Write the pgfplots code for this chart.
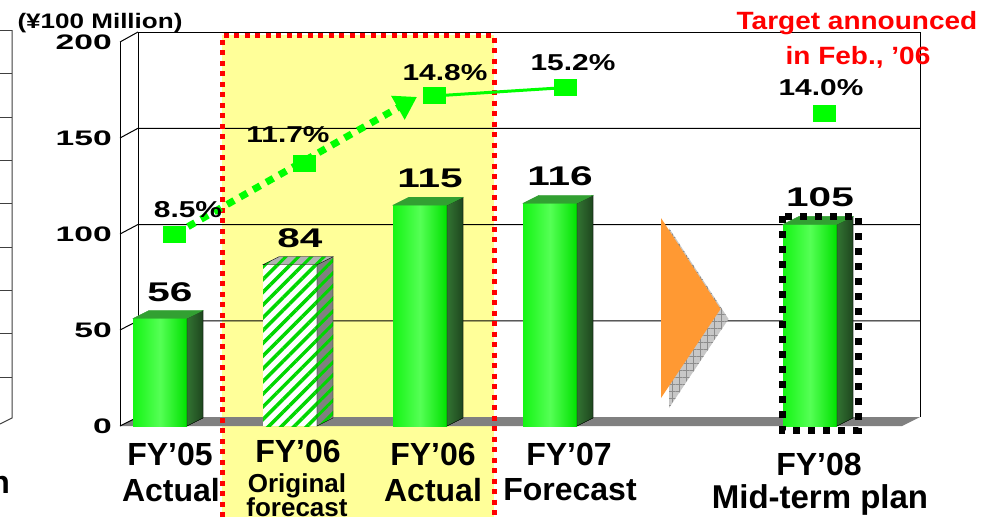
\documentclass[border=0pt]{standalone}
\usepackage{pgfplots}
\pgfplotsset{compat=1.18}
\usepackage{graphicx}
\usepackage{fontspec}
\setmainfont{Liberation Sans}
\usetikzlibrary{patterns.meta,arrows.meta}

\definecolor{ygreen}{RGB}{0,255,0}
\definecolor{barL}{RGB}{20,245,20}
\definecolor{barM}{RGB}{85,255,85}
\definecolor{barR}{RGB}{0,225,0}
\definecolor{sideL}{RGB}{50,115,50}
\definecolor{sideR}{RGB}{30,70,30}
\definecolor{topG}{RGB}{50,160,50}
\definecolor{hatchG}{RGB}{0,215,0}
\definecolor{paleyellow}{RGB}{255,255,153}
\definecolor{orangeT}{RGB}{255,153,51}
\definecolor{floorgray}{RGB}{128,128,128}

\pgfdeclareplotmark{nothing}{}
\pgfdeclareplotmark{greenrect}{\pgfpathrectangle{\pgfpoint{-11.5pt}{-8.5pt}}{\pgfpoint{23pt}{17pt}}\pgfusepathqfill}
\newcommand{\W}[2]{\scalebox{#1}[1]{#2}}
\newcommand{\fs}[1]{\fontsize{#1}{#1}\selectfont\bfseries}
\newcommand{\shtext}[5]{%
  \node[anchor=base, inner sep=0pt, font=\fs{#3}, text=#4] at (#1,#2) {#5};}

\pgfplotsset{
  frontbar/.style={ybar, bar width=54pt, bar shift=0pt, draw=none, fill=barL,
    left color=barL, right color=barR, middle color=barM},
  vals/.style={nodes near coords={\W{1.5}{\pgfmathprintnumber[assume math mode=true]{\pgfplotspointmeta}}},
    every node near coord/.append style={font=\fs{27}, text=black, inner sep=0pt, anchor=south, xshift=10pt, yshift=17pt}},
}

\begin{document}
\begin{tikzpicture}
\useasboundingbox (0pt,0pt) rectangle (990pt,-517pt);
\begin{scope}[x=1pt,y=-1pt]
  \fill[white] (0,0) rectangle (990,517);
  % fragment of neighbouring chart
  \foreach \yy in {30,73,117,160,203,247,290,333,377} \draw[black!75,line width=1pt] (0,\yy) -- (12,\yy);
  \draw[black!75, line width=1pt] (12,30) -- (12,418) -- (0,424);
  \node[anchor=base east, inner sep=0pt, font=\fs{32}] at (10,493) {n};
  % highlighted region
  \fill[paleyellow] (222,35) rectangle (494,517);
  % walls
  \draw[line width=1pt] (138,417) -- (138,32) -- (920,32) -- (920,417);
  \foreach \v in {50,100,150} \draw[line width=1pt] (120,{426-1.92*\v}) -- (138,{417-1.925*\v}) -- (920,{417-1.925*\v});
  \draw[line width=1pt] (120,42) -- (138,32);
  \draw[line width=1pt] (120,426) -- (120,42);
  % floor
  \fill[floorgray] (120,426) -- (902,426) -- (920,417) -- (138,417) -- cycle;
  \draw[line width=1pt] (120,426) -- (138,417);
  \draw[red, line width=5pt, dash pattern=on 5pt off 5.5pt] (222,517) -- (222,35.5) -- (494.5,35.5) -- (494.5,517);
  \node[anchor=base, inner sep=0pt, font=\fs{21}] at (100,28) {\W{1.24}{(¥100 Million)}};
\end{scope}

\begin{axis}[
  at={(120pt,-426pt)}, anchor=south west,
  scale only axis, width=782pt, height=384pt,
  xmin=-0.30769, xmax=5.70769, ymin=0, ymax=200,
  axis line style={draw=none}, major tick length=0pt,
  xtick=\empty,
  ytick={0,50,100,150,200},
  yticklabels={\W{1.6}{0},\W{1.6}{50},\W{1.6}{100},\W{1.6}{150},\W{1.6}{200}},
  yticklabel style={font=\fs{21}, inner sep=0pt, anchor=east, xshift=-8pt},
  clip=false,
]
% front faces
\addplot[frontbar, vals] coordinates {(0,56)};
\addplot[frontbar, vals] coordinates {(2,115)};
\addplot[frontbar, vals] coordinates {(3,116)};
\addplot[frontbar, vals] coordinates {(5,105)};
\addplot[ybar, bar width=54pt, bar shift=0pt, draw=none, fill=white] coordinates {(1,84)};
\addplot[ybar, bar width=54pt, bar shift=0pt, draw=none, vals,
  pattern={Lines[angle=45,distance=9pt,line width=3.5pt]}, pattern color=hatchG] coordinates {(1,84)};
% side and top faces
\addplot[scatter, only marks, mark=nothing, visualization depends on={rawy \as \barval},
  scatter/@pre marker code/.code={%
    \pgfmathsetmacro{\hh}{\barval*1.92}%
    \fill[left color=sideL, right color=sideR] (27pt,0pt) -- (43pt,8pt) -- (43pt,8pt-\hh pt) -- (27pt,-\hh pt) -- cycle;
    \fill[topG] (-27pt,0pt) -- (-11pt,8pt) -- (43pt,8pt) -- (27pt,0pt) -- cycle;
  },
  scatter/@post marker code/.code={}]
  coordinates {(0,56) (2,115) (3,116) (5,105)};
\addplot[scatter, only marks, mark=nothing, visualization depends on={rawy \as \barval},
  scatter/@pre marker code/.code={%
    \pgfmathsetmacro{\hh}{\barval*1.92}%
    \fill[black!50] (27pt,0pt) -- (43pt,8pt) -- (43pt,8pt-\hh pt) -- (27pt,-\hh pt) -- cycle;
    \fill[pattern={Lines[angle=45,distance=9pt,line width=3pt]}, pattern color=hatchG] (27pt,0pt) -- (43pt,8pt) -- (43pt,8pt-\hh pt) -- (27pt,-\hh pt) -- cycle;
    \fill[black!30] (-27pt,0pt) -- (-11pt,8pt) -- (43pt,8pt) -- (27pt,0pt) -- cycle;
    \fill[pattern={Lines[angle=45,distance=9pt,line width=3pt]}, pattern color=hatchG] (-27pt,0pt) -- (-11pt,8pt) -- (43pt,8pt) -- (27pt,0pt) -- cycle;
  },
  scatter/@post marker code/.code={}]
  coordinates {(1,84)};
% margin lines
\addplot[ygreen, line width=7pt, dash pattern=on 8pt off 7pt, -{Triangle[length=22pt,width=26pt]}]
  coordinates {(0.115,100) (1.977,171.4)};
\addplot[ygreen, line width=3pt] coordinates {(2.108,171.9) (3.123,176.3)};
\addplot[only marks, mark=greenrect, color=ygreen]
  coordinates {(0.115,100) (1.115,136.5) (2.108,171.9) (3.123,176.3) (5.115,162.8)};
\end{axis}

\begin{scope}[x=1pt,y=-1pt]
  % arrow between FY07 and FY08
  \fill[black!22] (669,228) -- (728.5,319) -- (669,408) -- cycle;
  \fill[pattern={Hatch[angle=0,distance=7pt,line width=0.7pt]}, pattern color=black!45] (669,228) -- (728.5,319) -- (669,408) -- cycle;
  \fill[orangeT] (661,218) -- (720.5,309) -- (661,398) -- cycle;
  % FY08 dotted frame
  \draw[black, line width=7pt, dash pattern=on 7pt off 8pt] (782,216) rectangle (858,430);
  % percentages
  \foreach \xx/\yy/\tt in {188/217/8.5\%, 288/142/11.7\%, 445/80/14.8\%, 573/70/15.2\%, 821/95/14.0\%}
    \node[anchor=base, inner sep=0pt, font=\fs{23}] at (\xx,\yy) {\W{1.3}{\tt}};
  % category labels
  \shtext{170}{465}{32}{black}{FY’05}
  \shtext{171}{501}{32}{black}{Actual}
  \shtext{298}{462}{32}{black}{FY’06}
  \shtext{297}{492}{26}{black}{Original}
  \shtext{297}{516}{26}{black}{forecast}
  \shtext{433}{465}{32}{black}{FY’06}
  \shtext{433}{501}{32}{black}{Actual}
  \shtext{569}{465}{32}{black}{FY’07}
  \shtext{570}{500}{32}{black}{Forecast}
  \shtext{819}{475}{32}{black}{FY’08}
  \shtext{820}{508}{33}{black}{Mid-term plan}
  \shtext{857}{29}{25}{red}{\W{1.12}{Target announced}}
  \shtext{858}{64}{25}{red}{\W{1.12}{in Feb., ’06}}
\end{scope}
\end{tikzpicture}
\end{document}
